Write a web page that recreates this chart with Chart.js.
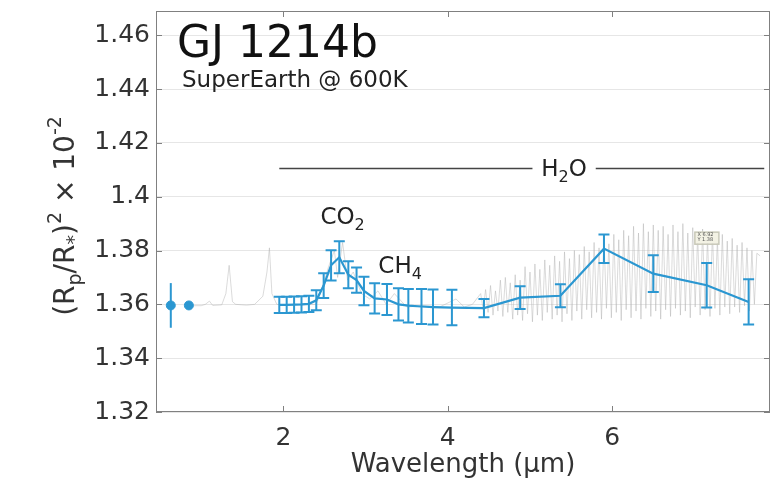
<!DOCTYPE html>
<html>
<head>
<meta charset="utf-8">
<script src="https://cdn.jsdelivr.net/npm/chart.js@4.4.0/dist/chart.umd.min.js"></script>
<style>
body { margin: 0; background: #fff; }
#chart { display: block; }
</style>
</head>
<body>
<canvas id="chart" width="781" height="481"></canvas>
<script>
// Two short-wavelength points (no connecting line)
const pointX = [0.63, 0.85];
const pointY = [1.3596, 1.3596];
const pointErr = [0.0083, 0.001];

// Binned spectrum with error bars
const specX = [1.95, 2.04, 2.13, 2.22, 2.31, 2.40, 2.49, 2.58, 2.68, 2.79, 2.89, 2.98, 3.11,
               3.26, 3.40, 3.52, 3.68, 3.82, 4.05, 4.44, 4.88, 5.37, 5.90, 6.50, 7.15, 7.66];
const specY = [1.3598, 1.3598, 1.3599, 1.3600, 1.3602, 1.3615, 1.3670, 1.3745, 1.3775, 1.3710,
               1.3690, 1.3650, 1.3622, 1.3618, 1.3600, 1.3595, 1.3592, 1.3590, 1.3588, 1.3586,
               1.3625, 1.3632, 1.3807, 1.3714, 1.3671, 1.3609];
const specErr = [0.0030, 0.0030, 0.0030, 0.0030, 0.0030, 0.0037, 0.0046, 0.0056, 0.0059, 0.0050,
                 0.0047, 0.0053, 0.0056, 0.0058, 0.0060, 0.0062, 0.0065, 0.0065, 0.0066, 0.0034,
                 0.0042, 0.0043, 0.0053, 0.0068, 0.0083, 0.0084];

// Model spectrum (grey, read off roughly)
const modelX = [0.90, 1.00, 1.05, 1.10, 1.14, 1.25, 1.30, 1.34, 1.38, 1.42, 1.55, 1.65, 1.75, 1.80,
                1.83, 1.86, 1.92, 2.00, 2.20, 2.40, 2.45, 2.55, 2.62, 2.66, 2.72, 2.78, 2.85, 2.95,
                3.05, 3.15, 3.25, 3.35, 3.50, 3.70, 3.90, 4.10, 4.20, 4.30,
                4.40, 4.43, 4.46, 4.49, 4.52, 4.55, 4.58, 4.61, 4.64, 4.67, 4.70, 4.73, 4.76, 4.79,
                4.82, 4.85, 4.88, 4.91, 4.94, 4.97, 5.00, 5.03, 5.06, 5.09, 5.12, 5.15, 5.18, 5.21,
                5.24, 5.27, 5.30, 5.33, 5.36, 5.39, 5.42, 5.45, 5.48, 5.51, 5.54, 5.57, 5.60, 5.63,
                5.66, 5.69, 5.72, 5.75, 5.78, 5.81, 5.84, 5.87, 5.90, 5.93, 5.96, 5.99, 6.02, 6.05,
                6.08, 6.11, 6.14, 6.17, 6.20, 6.23, 6.26, 6.29, 6.32, 6.35, 6.38, 6.41, 6.44, 6.47,
                6.50, 6.53, 6.56, 6.59, 6.62, 6.65, 6.68, 6.71, 6.74, 6.77, 6.80, 6.83, 6.86, 6.89,
                6.92, 6.95, 6.98, 7.01, 7.04, 7.07, 7.10, 7.13, 7.16, 7.19, 7.22, 7.25, 7.28, 7.31,
                7.34, 7.37, 7.40, 7.43, 7.46, 7.49, 7.52, 7.55, 7.58, 7.61, 7.64, 7.67, 7.70, 7.73,
                7.76, 7.80];
const modelY = [1.3595, 1.3595, 1.3600, 1.3612, 1.3596, 1.3598, 1.3640, 1.3745, 1.3610, 1.3600,
                1.3597, 1.3600, 1.3630, 1.3720, 1.3810, 1.3640, 1.3600, 1.3598, 1.3598, 1.3600,
                1.3640, 1.3740, 1.3800, 1.3700, 1.3830, 1.3690, 1.3720, 1.3640, 1.3620, 1.3650,
                1.3600, 1.3640, 1.3590, 1.3595, 1.3590, 1.3620, 1.3590, 1.3600,
                1.3640, 1.3580, 1.3655, 1.3570, 1.3670, 1.3560, 1.3650, 1.3575, 1.3690, 1.3555,
                1.3700, 1.3570, 1.3680, 1.3545, 1.3710, 1.3560, 1.3690, 1.3540, 1.3740, 1.3565,
                1.3720, 1.3535, 1.3750, 1.3560, 1.3730, 1.3540, 1.3765, 1.3570, 1.3745, 1.3545,
                1.3780, 1.3560, 1.3760, 1.3535, 1.3795, 1.3565, 1.3770, 1.3540, 1.3800, 1.3575,
                1.3785, 1.3545, 1.3815, 1.3580, 1.3795, 1.3550, 1.3830, 1.3570, 1.3810, 1.3545,
                1.3845, 1.3585, 1.3825, 1.3550, 1.3860, 1.3570, 1.3840, 1.3540, 1.3875, 1.3580,
                1.3855, 1.3550, 1.3890, 1.3575, 1.3865, 1.3545, 1.3900, 1.3585, 1.3870, 1.3555,
                1.3895, 1.3575, 1.3875, 1.3545, 1.3890, 1.3580, 1.3860, 1.3555, 1.3895, 1.3585,
                1.3870, 1.3560, 1.3900, 1.3575, 1.3865, 1.3550, 1.3885, 1.3590, 1.3860, 1.3560,
                1.3880, 1.3580, 1.3850, 1.3555, 1.3870, 1.3585, 1.3845, 1.3560, 1.3860, 1.3590,
                1.3835, 1.3565, 1.3845, 1.3590, 1.3820, 1.3570, 1.3830, 1.3595, 1.3810, 1.3575,
                1.3800, 1.3600, 1.3790, 1.3780];

const xTicks = [2, 4, 6];
const yTicks = [1.32, 1.34, 1.36, 1.38, 1.40, 1.42, 1.44, 1.46];

// H2O band marker
const h2oSpan = [1.95, 7.85];
const h2oGap = [5.03, 5.80];
const h2oLevel = 1.4105;

const FONT = "'DejaVu Sans', sans-serif";
const BLUE = '#2b97d1';

// draw text made of pieces [text, size, baselineShift]
function drawParts(ctx, parts, x, y, align) {
    let total = 0;
    parts.forEach(p => {
        ctx.font = p[1] + 'px ' + FONT;
        total += ctx.measureText(p[0]).width;
    });
    let cx = align === 'center' ? x - total / 2 : x;
    ctx.textAlign = 'left';
    ctx.textBaseline = 'alphabetic';
    parts.forEach(p => {
        ctx.font = p[1] + 'px ' + FONT;
        ctx.fillText(p[0], cx, y + p[2]);
        cx += ctx.measureText(p[0]).width;
    });
}

function drawErrorBars(ctx, xs, ys, errs, xScale, yScale, cap) {
    ctx.strokeStyle = BLUE;
    ctx.lineWidth = 2;
    for (let i = 0; i < xs.length; i++) {
        const px = xScale.getPixelForValue(xs[i]);
        const top = yScale.getPixelForValue(ys[i] + errs[i]);
        const bot = yScale.getPixelForValue(ys[i] - errs[i]);
        ctx.beginPath();
        ctx.moveTo(px, top); ctx.lineTo(px, bot);
        if (cap > 0) {
            ctx.moveTo(px - cap, top); ctx.lineTo(px + cap, top);
            ctx.moveTo(px - cap, bot); ctx.lineTo(px + cap, bot);
        }
        ctx.stroke();
    }
}

const extras = {
    id: 'extras',
    afterDatasetsDraw(chart) {
        const ctx = chart.ctx;
        const xs = chart.scales.x, ys = chart.scales.y;
        ctx.save();
        drawErrorBars(ctx, specX, specY, specErr, xs, ys, 5.5);
        drawErrorBars(ctx, pointX, pointY, pointErr, xs, ys, 0);
        ctx.restore();
    },
    afterDraw(chart) {
        const ctx = chart.ctx;
        const a = chart.chartArea;
        const xs = chart.scales.x, ys = chart.scales.y;
        ctx.save();

        // box and inward ticks
        ctx.strokeStyle = '#808080';
        ctx.lineWidth = 1;
        ctx.strokeRect(a.left + 0.5, a.top + 0.5, a.right - a.left - 1, a.bottom - a.top - 1);
        ctx.beginPath();
        yTicks.forEach(v => {
            const py = Math.round(ys.getPixelForValue(v)) + 0.5;
            ctx.moveTo(a.left, py); ctx.lineTo(a.left + 6, py);
            ctx.moveTo(a.right, py); ctx.lineTo(a.right - 6, py);
        });
        xTicks.forEach(v => {
            const px = Math.round(xs.getPixelForValue(v)) + 0.5;
            ctx.moveTo(px, a.bottom); ctx.lineTo(px, a.bottom - 6);
            ctx.moveTo(px, a.top); ctx.lineTo(px, a.top + 6);
        });
        ctx.stroke();

        // H2O band line
        const hy = ys.getPixelForValue(h2oLevel);
        ctx.strokeStyle = '#444';
        ctx.lineWidth = 1.5;
        ctx.beginPath();
        ctx.moveTo(xs.getPixelForValue(h2oSpan[0]), hy);
        ctx.lineTo(xs.getPixelForValue(h2oGap[0]), hy);
        ctx.moveTo(xs.getPixelForValue(h2oGap[1]), hy);
        ctx.lineTo(xs.getPixelForValue(h2oSpan[1]), hy);
        ctx.stroke();

        ctx.fillStyle = '#222';
        const hx = (xs.getPixelForValue(h2oGap[0]) + xs.getPixelForValue(h2oGap[1])) / 2;
        drawParts(ctx, [['H', 23, 0], ['2', 16, 6], ['O', 23, 0]], hx, hy + 8, 'center');

        drawParts(ctx, [['CO', 23, 0], ['2', 16, 6]],
            xs.getPixelForValue(2.72), ys.getPixelForValue(1.3897), 'center');
        drawParts(ctx, [['CH', 23, 0], ['4', 16, 6]],
            xs.getPixelForValue(3.42), ys.getPixelForValue(1.3715), 'center');

        // titles
        ctx.fillStyle = '#111';
        drawParts(ctx, [['GJ 1214b', 44, 0]], 177, 57, 'left');
        ctx.fillStyle = '#222';
        drawParts(ctx, [['SuperEarth @ 600K', 23, 0]], 182, 87, 'left');

        // data tip
        const tx = xs.getPixelForValue(7.0), ty = ys.getPixelForValue(1.387);
        ctx.fillStyle = '#f3f2e4';
        ctx.fillRect(tx, ty, 24, 12);
        ctx.strokeStyle = '#c8c8b8';
        ctx.strokeRect(tx + 0.5, ty + 0.5, 24, 12);
        ctx.fillStyle = '#555';
        ctx.font = '5px ' + FONT;
        ctx.textAlign = 'left';
        ctx.textBaseline = 'top';
        ctx.fillText('X 6.92', tx + 3, ty + 1);
        ctx.fillText('Y 1.38', tx + 3, ty + 6);

        // y axis title, rotated
        ctx.translate(74, 216);
        ctx.rotate(-Math.PI / 2);
        ctx.fillStyle = '#333';
        drawParts(ctx, [['(', 28, 0], ['R', 28, 0], ['p', 19, 7], ['/', 28, 0], ['R', 28, 0],
            ['*', 19, 6], [')', 28, 0], ['2', 19, -13], [' \u00d7 ', 28, 0], ['10', 28, 0],
            ['-2', 19, -13]], 0, 0, 'center');
        ctx.restore();
    }
};

const ctx = document.getElementById('chart').getContext('2d');
new Chart(ctx, {
    type: 'scatter',
    data: {
        datasets: [{
            data: specX.map((x, i) => ({ x: x, y: specY[i] })),
            showLine: true,
            borderColor: BLUE,
            backgroundColor: BLUE,
            borderWidth: 2.2,
            pointRadius: 0,
            tension: 0
        }, {
            data: pointX.map((x, i) => ({ x: x, y: pointY[i] })),
            showLine: false,
            borderColor: BLUE,
            backgroundColor: BLUE,
            pointRadius: 4.5
        }, {
            data: modelX.map((x, i) => ({ x: x, y: modelY[i] })),
            showLine: true,
            borderColor: 'rgba(175,175,175,0.45)',
            borderWidth: 1,
            pointRadius: 0,
            tension: 0
        }]
    },
    options: {
        responsive: false,
        animation: false,
        layout: { padding: { top: 11, right: 11, left: 0, bottom: 0 } },
        plugins: { legend: { display: false }, tooltip: { enabled: false } },
        scales: {
            x: {
                type: 'linear',
                min: 0.45,
                max: 7.92,
                afterBuildTicks: s => { s.ticks = xTicks.map(v => ({ value: v })); },
                afterFit: s => { s.height = 69; s.paddingLeft = 0; s.paddingRight = 0; },
                grid: { display: false, drawTicks: false },
                border: { display: false },
                ticks: {
                    padding: 11,
                    color: '#333',
                    font: { family: FONT, size: 25 }
                },
                title: {
                    display: true,
                    text: 'Wavelength (\u03bcm)',
                    color: '#333',
                    font: { family: FONT, size: 26 },
                    padding: { top: 0, bottom: 0 }
                }
            },
            y: {
                min: 1.32,
                max: 1.469,
                afterBuildTicks: s => { s.ticks = yTicks.map(v => ({ value: v })); },
                afterFit: s => { s.width = 156; s.paddingTop = 0; s.paddingBottom = 0; },
                grid: { color: '#e6e6e6', drawTicks: false },
                border: { display: false },
                ticks: {
                    padding: 6,
                    color: '#333',
                    font: { family: FONT, size: 25 },
                    callback: v => String(Number(v.toFixed(2)))
                }
            }
        }
    },
    plugins: [extras]
});
</script>
</body>
</html>
